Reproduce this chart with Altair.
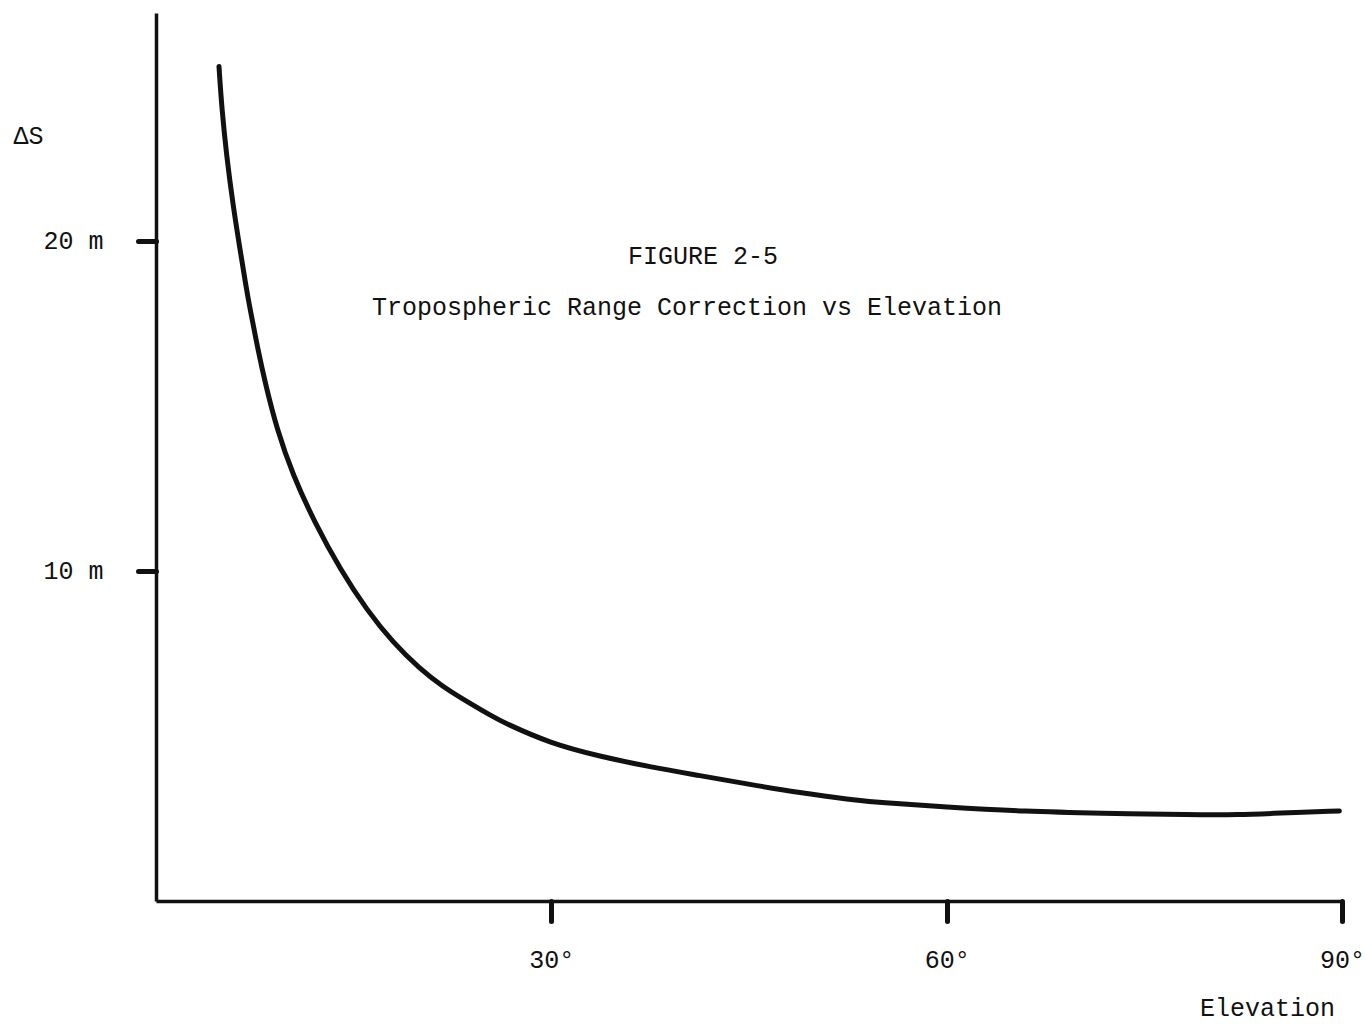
import altair as alt
import pandas as pd

# Curve (elevation in degrees, range correction in metres)
elevation = [4.78, 4.98, 5.36, 5.86, 6.37, 6.83, 7.13, 7.74, 8.27, 9.18, 10.39,
             12.0, 14.0, 16.0, 18.0, 20.0, 21.78, 23.07,
             25.57, 26.48, 29.89, 33.69, 37.48, 41.27, 45.07, 48.86, 52.66, 54.93,
             59.8, 66.08, 71.6, 78.68, 82.2, 85.05, 89.8]
delta_s = [25.28, 24.07, 22.55, 21.04, 19.75, 18.62, 17.95, 16.70, 15.72, 14.28, 12.90,
           11.50, 10.03, 8.81, 7.82, 7.04, 6.49, 6.17,
           5.58, 5.39, 4.78, 4.38, 4.06, 3.80, 3.53, 3.28, 3.07, 2.98,
           2.85, 2.71, 2.66, 2.61, 2.61, 2.66, 2.73]

x_ticks = [30, 60, 90]
y_ticks = [10, 20]
title_lines = ["FIGURE 2-5", "Tropospheric Range Correction vs Elevation"]

FONT = "Liberation Mono"
INK = "#111111"

df = pd.DataFrame({"elev": elevation, "ds": delta_s})

W, H = 1186, 888

x_enc = alt.X(
    "elev:Q",
    scale=alt.Scale(domain=[0, 90], nice=False, zero=False),
    axis=alt.Axis(
        values=x_ticks, labelExpr="datum.value + '°'", grid=False,
        domainColor=INK, domainWidth=3.5, tickColor=INK, tickWidth=5,
        tickSize=20, tickCap="round", labelFont=FONT, labelFontSize=25,
        labelColor=INK, labelPadding=26, labelFlush=False,
        title="Elevation", titleFont=FONT, titleFontSize=25,
        titleFontWeight="normal", titleColor=INK, titleX=1111, titleY=106,
        titleAlign="center", titleBaseline="middle",
    ),
)
y_enc = alt.Y(
    "ds:Q",
    scale=alt.Scale(domain=[0, 26.9], nice=False, zero=True),
    axis=alt.Axis(
        values=y_ticks, labelExpr="datum.value + ' m'", grid=False,
        domainColor=INK, domainWidth=3.5, tickColor=INK, tickWidth=5,
        tickSize=18, tickCap="round", labelFont=FONT, labelFontSize=25,
        labelColor=INK, labelPadding=35, labelFlush=False,
        title="ΔS", titleFont=FONT, titleFontSize=25, titleFontWeight="normal",
        titleColor=INK, titleAngle=0, titleX=-128, titleY=122,
        titleAlign="center", titleBaseline="middle",
    ),
)

curve = alt.Chart(df).mark_line(
    color=INK, strokeWidth=5, interpolate="basis", strokeCap="round"
).encode(x=x_enc, y=y_enc)

t1 = alt.Chart(pd.DataFrame({"t": [title_lines[0]]})).mark_text(
    font=FONT, fontSize=25, color=INK, align="center", baseline="middle"
).encode(text="t:N", x=alt.value(547), y=alt.value(243))

t2 = alt.Chart(pd.DataFrame({"t": [title_lines[1]]})).mark_text(
    font=FONT, fontSize=25, color=INK, align="center", baseline="middle"
).encode(text="t:N", x=alt.value(531), y=alt.value(294))

chart = alt.layer(curve, t1, t2).properties(
    width=W, height=H,
    autosize=alt.AutoSizeParams(type="none"),
    padding={"left": 156, "top": 13, "right": 30, "bottom": 123},
    background="white",
).configure_view(stroke=None)

chart.save("out.html", embed_options={"renderer": "svg", "actions": False})
